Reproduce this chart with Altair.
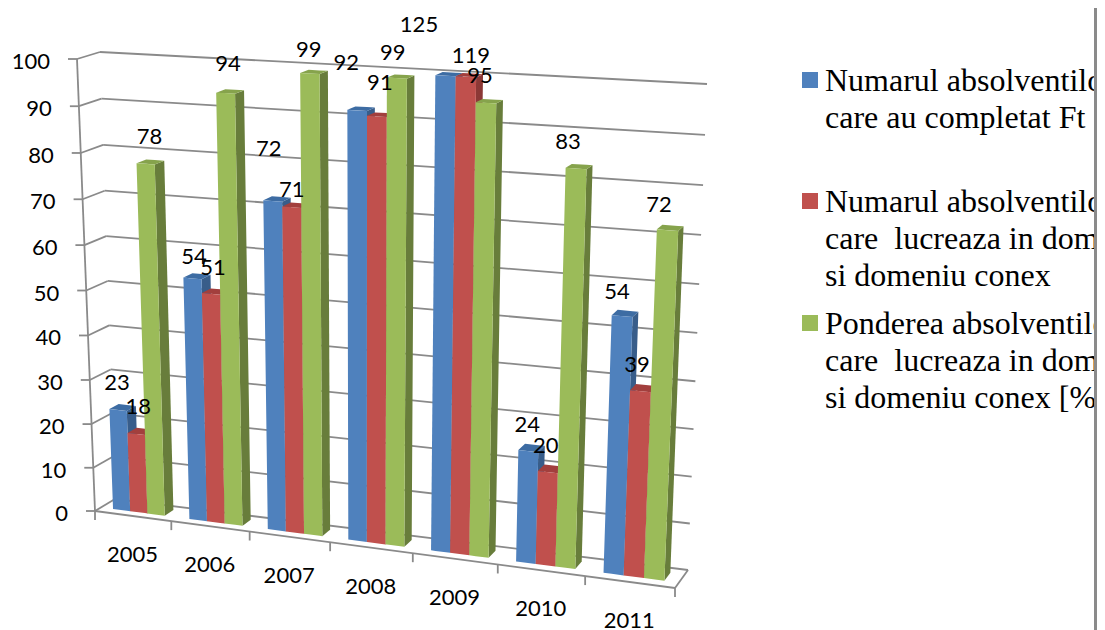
import altair as alt
import pandas as pd

# ---------- chart values ----------
years = ["2005", "2006", "2007", "2008", "2009", "2010", "2011"]
completed = [23, 54, 72, 92, 125, 24, 54]
working = [18, 51, 71, 91, 119, 20, 39]
share = [78, 94, 99, 99, 95, 83, 72]
value_ticks = [0, 10, 20, 30, 40, 50, 60, 70, 80, 90, 100]
series_names = [
    ["Numarul absolventilor", "care au completat Ft"],
    ["Numarul absolventilor", "care\u00a0 lucreaza in domeniu", "si domeniu conex"],
    ["Ponderea absolventilor", "care\u00a0 lucreaza in domeniu", "si domeniu conex [%]"],
]

# ---------- styles ----------
front_cols = ["#4F81BD", "#C0504D", "#9BBB59"]
top_cols = ["#3D6CA3", "#A23F3D", "#86A34C"]
side_cols = ["#385D8A", "#8C3836", "#687D3B"]
GRID = "#8A8A8A"

# ---------- 3-D view of the box (pixel corners of the Excel perspective) ----------
FB0, FB1, FT0, FT1 = (95, 511), (675, 588), (77, 59), (696, 91)
BB0, BB1, BT0, BT1 = (115, 499), (688, 570), (100, 52), (707, 84)
N = len(years)
AX_MAX = 100


def lerp(a, b, t):
    return a + (b - a) * t


def project(u, v, w):
    f = u / (u + (N - u) * 1.1)
    r = min(w, AX_MAX) / AX_MAX
    g = r / (r + (1 - r) * 1.05)
    out = []
    for i in (0, 1):
        fb = lerp(FB0[i], FB1[i], f)
        ft = lerp(FT0[i], FT1[i], f)
        bb = lerp(BB0[i], BB1[i], f)
        bt = lerp(BT0[i], BT1[i], f)
        out.append(lerp(lerp(fb, ft, g), lerp(bb, bt, g), v))
    return tuple(out)


def envelope(poly):
    """Convex polygon -> upper/lower rows for an area mark."""
    xs = sorted({p[0] for p in poly})
    rows = []
    n = len(poly)
    for x in xs:
        ys = []
        for i in range(n):
            a, b = poly[i], poly[(i + 1) % n]
            lo, hi = min(a[0], b[0]), max(a[0], b[0])
            if lo <= x <= hi:
                if a[0] == b[0]:
                    ys += [a[1], b[1]]
                else:
                    ys.append(lerp(a[1], b[1], (x - a[0]) / (b[0] - a[0])))
        rows.append((x, min(ys), max(ys)))
    return rows


# ---------- geometry derived from the values ----------
GROUP_START, BAR_W = 0.16, 0.2267
V0, V1 = 0.3, 0.75
all_series = [completed, working, share]
faces = []
pid = 0


def add_face(poly, col):
    global pid
    for x, y0, y1 in envelope(poly):
        faces.append({"poly": f"p{pid:03d}", "x": x, "y": y0, "y2": y1, "col": col})
    pid += 1


for k in range(N):
    for s, vals in enumerate(all_series):
        val = vals[k]
        u0 = k + GROUP_START + s * BAR_W
        u1 = u0 + BAR_W
        add_face([project(u1, V0, 0), project(u1, V1, 0), project(u1, V1, val), project(u1, V0, val)], side_cols[s])
        add_face([project(u0, V0, val), project(u1, V0, val), project(u1, V1, val), project(u0, V1, val)], top_cols[s])
        add_face([project(u0, V0, 0), project(u1, V0, 0), project(u1, V0, val), project(u0, V0, val)], front_cols[s])

segments = []


def seg(a, b):
    segments.append({"x": a[0], "y": a[1], "x2": b[0], "y2": b[1]})


for w in value_ticks:
    seg(project(0, 0, w), project(0, 1, w))
    seg(project(0, 1, w), project(N, 1, w))
    p = project(0, 0, w)
    seg((p[0] - 9, p[1]), p)
seg(project(0, 0, 0), project(0, 0, AX_MAX))
seg(project(0, 0, 0), project(N, 0, 0))
seg(project(N, 0, 0), project(N, 1, 0))
for k in range(N + 1):
    p = project(k, 0, 0)
    seg(p, (p[0], p[1] + 9))

# label nudges, pixels from the top of each bar (hand-placed in the source chart)
nudges = [
    [(-1, -28), (1.5, -22), (-4, -53), (-11, -48), (-26.5, -52), (-1, -27), (-5, -25.5)],
    [(2, -28), (2, -26.5), (0, -18.5), (3, -34.5), (5, -21.5), (-2, -27), (-3.5, -27)],
    [(4, -28), (2.5, -30), (-1, -25), (-4, -26), (-6, -27.5), (-8, -27), (-8.5, -26.5)],
]
value_labels = []
for s, vals in enumerate(all_series):
    for k, val in enumerate(vals):
        p = project(k + GROUP_START + (s + 0.5) * BAR_W, V0, val)
        dx, dy = nudges[s][k]
        value_labels.append({"x": p[0] + dx, "y": p[1] + dy + 1, "t": str(val)})

axis_labels = []
for w in value_ticks:
    p = project(0, 0, w)
    axis_labels.append({"x": p[0] - 27, "y": p[1] + 3, "t": str(w)})

cat_labels = []
for k, yr in enumerate(years):
    p = project(k + 0.5, 0, 0)
    cat_labels.append({"x": p[0] - 0.5, "y": p[1] + 39, "t": yr})

# legend layout
LEG_SWATCH_X, LEG_TEXT_X, LINE_H = 802, 825, 37
leg_first_baseline = [91, 212, 334]
swatches, leg_text = [], []
for s, lines in enumerate(series_names):
    b = leg_first_baseline[s]
    swatches.append({"x": LEG_SWATCH_X, "x2": LEG_SWATCH_X + 16, "y": b - 19, "y2": b - 3, "col": front_cols[s]})
    for i, line in enumerate(lines):
        leg_text.append({"x": LEG_TEXT_X, "y": b + i * LINE_H, "t": line})

# ---------- chart ----------
X0, X1, Y0, Y1 = 8, 1097, 8, 630
xs = alt.Scale(domain=[X0, X1], nice=False, zero=False)
ys = alt.Scale(domain=[Y1, Y0], nice=False, zero=False)
ex = lambda f="x": alt.X(f"{f}:Q", scale=xs, axis=None)
ey = lambda f="y": alt.Y(f"{f}:Q", scale=ys, axis=None, stack=None)


def text_layer(rows, font, size, baseline="middle", align="center"):
    return alt.Chart(pd.DataFrame(rows)).mark_text(
        font=font, fontSize=size, color="black", baseline=baseline, align=align
    ).encode(x=ex(), y=ey(), text="t:N")


grid = alt.Chart(pd.DataFrame(segments)).mark_rule(color=GRID, strokeWidth=1.8).encode(
    x=ex(), y=ey(), x2="x2:Q", y2="y2:Q"
)
bars = alt.Chart(pd.DataFrame(faces)).mark_area(interpolate="linear", orient="vertical").encode(
    x=ex(), y=ey(), y2=alt.Y2("y2:Q"),
    detail="poly:N",
    color=alt.Color("col:N", scale=None),
)
swatch_layer = alt.Chart(pd.DataFrame(swatches)).mark_rect().encode(
    x=ex(), x2="x2:Q", y=ey(), y2="y2:Q", color=alt.Color("col:N", scale=None)
)
mask = alt.Chart(pd.DataFrame([{"x": 1094, "x2": X1, "y": Y1, "y2": Y0}])).mark_rect(color="white").encode(
    x=ex(), x2="x2:Q", y=ey(), y2="y2:Q"
)
edge = alt.Chart(pd.DataFrame([{"x": 1095.5, "y": Y1, "y2": Y0}])).mark_rule(color="#8A8A8A", strokeWidth=3).encode(
    x=ex(), y=ey(), y2="y2:Q"
)

chart = alt.layer(
    grid,
    bars,
    text_layer(axis_labels, "Lato", 22, align="right"),
    text_layer(cat_labels, "Lato", 22),
    text_layer(value_labels, "Lato", 22),
    swatch_layer,
    text_layer(leg_text, "Liberation Serif", 32, baseline="alphabetic", align="left"),
    mask,
    edge,
).properties(width=X1 - X0, height=Y1 - Y0, padding=0, autosize=alt.AutoSizeParams(type="none"), background="white").configure_view(stroke=None)

chart.save("out.html", embed_options={"renderer": "svg", "actions": False})
